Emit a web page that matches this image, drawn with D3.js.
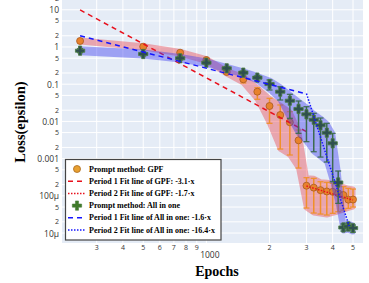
<!DOCTYPE html>
<html>
<head>
<meta charset="utf-8">
<script src="https://cdn.jsdelivr.net/npm/d3@7"></script>
<style>
  body { margin: 0; background: #fff; }
  svg { display: block; }
</style>
</head>
<body>
<div id="chart"></div>
<script>
// Loss vs epochs, log-log, GPF vs All in one

var epochs = [250, 500, 750, 1000, 1250, 1500, 1750, 2000, 2250, 2500,
              2750, 3000, 3250, 3500, 3750, 4000, 4250, 4500, 4750, 5000];

var gpfMean = [1.45, 1.02, 0.703, 0.447, 0.213, 0.1355, 0.0629, 0.0259, 0.01486, 0.00946,
               0.0031, 1.87e-4, 1.66e-4, 1.42e-4, 1.31e-4, 1.28e-4, 1.17e-4, 1.05e-4, 7.9e-5, 7.96e-5];
var gpfHi   = [1.54, 1.08, 0.757, 0.482, 0.2336, 0.161, 0.0805, 0.0418, 0.0276, 0.01823,
               0.00587, 3.07e-4, 2.95e-4, 2.39e-4, 2.31e-4, 2.17e-4, 1.95e-4, 1.76e-4, 1.59e-4, 1.52e-4];
var gpfLo   = [1.36, 0.958, 0.648, 0.413, 0.188, 0.1077, 0.0393, 0.00889, 0.00181, 0.00125,
               5.58e-4, 4.7e-5, 3.45e-5, 3.24e-5, 3.05e-5, 3.39e-5, 3.74e-5, 4.15e-5, 4.61e-5, 5.0e-5];

var aioMean = [0.795, 0.648, 0.497, 0.378, 0.267, 0.204, 0.150, 0.101, 0.0629, 0.0360,
               0.0216, 0.0155, 0.0111, 0.00785, 0.00497, 0.00258, 2.28e-4, 1.41e-5, 1.50e-5, 1.36e-5];
var aioHi   = [0.900, 0.734, 0.556, 0.420, 0.299, 0.2264, 0.1714, 0.1297, 0.0857, 0.0535,
               0.0353, 0.0248, 0.01651, 0.01234, 0.00889, 0.00478, 4.64e-4, 1.75e-5, 1.86e-5, 1.64e-5];
var aioLo   = [0.703, 0.573, 0.447, 0.339, 0.241, 0.1767, 0.1219, 0.0698, 0.0376, 0.01211,
               0.00478, 0.00285, 0.00153, 0.0011, 8.1e-4, 2.39e-4, 6.28e-5, 1.13e-5, 1.20e-5, 1.06e-5];

// fit lines: [epoch, loss] end points
var gpfFit1 = [[250, 9.9], [3000, 0.0053]];
var gpfFit2 = [[3000, 1.83e-4], [5000, 7.7e-5]];
var aioFit1 = [[250, 2.01], [3000, 0.0545]];
var aioFit2 = [[3000, 0.056], [4800, 1.5e-5]];

var xTickVals = [300, 400, 500, 600, 700, 800, 900, 1000, 2000, 3000, 4000, 5000];
var xTickText = ["3", "4", "5", "6", "7", "8", "9", "1000", "2", "3", "4", "5"];
var yMajorVals = [10, 1, 0.1, 0.01, 0.001, 1e-4, 1e-5];
var yMajorText = ["10", "1", "0.1", "0.01", "0.001", "100μ", "10μ"];
var yMinorVals = [20, 5, 2, 0.5, 0.2, 0.05, 0.02, 0.005, 0.002, 5e-4, 2e-4, 5e-5, 2e-5];
var yMinorText = ["2", "5", "2", "5", "2", "5", "2", "5", "2", "5", "2", "5", "2"];

var legendLabels = ["Prompt method: GPF",
                    "Period 1 Fit line of GPF: -3.1·x",
                    "Period 2 Fit line of GPF: -1.7·x",
                    "Prompt method: All in one",
                    "Period 1 Fit line of All in one: -1.6·x",
                    "Period 2 Fit line of All in one: -16.4·x"];

var width = 369, height = 283;
var plotL = 62, plotR = 363, plotT = 0, plotB = 243;

var svg = d3.select("#chart").append("svg")
    .attr("width", width)
    .attr("height", height);

var x = d3.scaleLog().domain([205, 5580]).range([plotL, plotR]);
var y = d3.scaleLog().domain([5.4e-6, 18.3]).range([plotB, plotT]);

svg.append("defs").append("clipPath").attr("id", "clip")
  .append("rect")
    .attr("x", plotL).attr("y", plotT)
    .attr("width", plotR - plotL).attr("height", plotB - plotT);

// background
svg.append("rect")
    .attr("x", plotL).attr("y", plotT)
    .attr("width", plotR - plotL).attr("height", plotB - plotT)
    .attr("fill", "#e5ecf6");

var grid = svg.append("g").attr("clip-path", "url(#clip)");
grid.selectAll(".vg").data(xTickVals).enter().append("line")
    .attr("x1", d => x(d)).attr("x2", d => x(d))
    .attr("y1", plotT).attr("y2", plotB)
    .attr("stroke", "#fff").attr("stroke-width", 1);
grid.selectAll(".hg").data(yMajorVals.concat(yMinorVals)).enter().append("line")
    .attr("x1", plotL).attr("x2", plotR)
    .attr("y1", d => y(d)).attr("y2", d => y(d))
    .attr("stroke", "#fff").attr("stroke-width", 1);

// tick labels
var tickFont = "'Open Sans', 'DejaVu Sans', sans-serif";
svg.selectAll(".xt").data(xTickVals).enter().append("text")
    .attr("x", d => x(d))
    .attr("dx", (d, i) => xTickText[i].length > 1 ? 3.5 : 0)
    .attr("y", (d, i) => xTickText[i].length > 1 ? 254 : 247)
    .attr("text-anchor", "middle")
    .attr("dominant-baseline", "central")
    .style("font-family", tickFont)
    .style("font-size", (d, i) => xTickText[i].length > 1 ? "8.5px" : "7px")
    .attr("fill", "#333")
    .text((d, i) => xTickText[i]);

svg.selectAll(".ytM").data(yMajorVals).enter().append("text")
    .attr("x", 59).attr("y", d => y(d))
    .attr("text-anchor", "end")
    .attr("dominant-baseline", "central")
    .style("font-family", tickFont)
    .style("font-size", "8.5px")
    .attr("fill", "#333")
    .text((d, i) => yMajorText[i]);
svg.selectAll(".ytm").data(yMinorVals).enter().append("text")
    .attr("x", 59).attr("y", d => y(d))
    .attr("text-anchor", "end")
    .attr("dominant-baseline", "central")
    .style("font-family", tickFont)
    .style("font-size", "7px")
    .attr("fill", "#333")
    .text((d, i) => yMinorText[i]);

// axis titles
var serif = "'Liberation Serif', 'Times New Roman', serif";
svg.append("text")
    .attr("x", 217).attr("y", 276)
    .attr("text-anchor", "middle")
    .style("font-family", serif).style("font-weight", "bold").style("font-size", "14px")
    .text("Epochs");
svg.append("text")
    .attr("transform", "translate(25,122)rotate(-90)")
    .attr("text-anchor", "middle")
    .style("font-family", serif).style("font-weight", "bold").style("font-size", "14.5px")
    .text("Loss(epsilon)");

var plot = svg.append("g").attr("clip-path", "url(#clip)");

function rows(mean, hi, lo) {
    return epochs.map((e, i) => ({ e: e, m: mean[i], hi: hi[i], lo: lo[i] }));
}
var gpf = rows(gpfMean, gpfHi, gpfLo);
var aio = rows(aioMean, aioHi, aioLo);

var band = d3.area()
    .x(d => x(d.e))
    .y0(d => y(d.lo))
    .y1(d => y(d.hi));
var fitLine = d3.line()
    .x(d => x(d[0]))
    .y(d => y(d[1]));

function errBars(g, data, color) {
    g.selectAll(null).data(data).enter().append("line")
        .attr("x1", d => x(d.e)).attr("x2", d => x(d.e))
        .attr("y1", d => y(d.hi)).attr("y2", d => y(d.lo))
        .attr("stroke", color).attr("stroke-width", 1.5);
    ["hi", "lo"].forEach(function(k) {
        g.selectAll(null).data(data).enter().append("line")
            .attr("x1", d => x(d.e) - 3).attr("x2", d => x(d.e) + 3)
            .attr("y1", d => y(d[k])).attr("y2", d => y(d[k]))
            .attr("stroke", color).attr("stroke-width", 1.2);
    });
}

// GPF
plot.append("path").datum(gpf)
    .attr("d", band)
    .attr("fill", "rgb(235,60,70)")
    .attr("stroke", "rgb(235,60,70)")
    .attr("stroke-width", 5)
    .attr("stroke-linejoin", "round")
    .attr("opacity", 0.4);
errBars(plot, gpf, "#f0902a");
plot.selectAll(null).data(gpf).enter().append("circle")
    .attr("cx", d => x(d.e)).attr("cy", d => y(d.m))
    .attr("r", 3.5)
    .attr("fill", "#e8822c")
    .attr("stroke", "#a85a20").attr("stroke-width", 0.8);
plot.append("path").datum(gpfFit1)
    .attr("d", fitLine).attr("fill", "none")
    .attr("stroke", "#e8101c").attr("stroke-width", 1.5)
    .attr("stroke-dasharray", "5,4");
plot.append("path").datum(gpfFit2)
    .attr("d", fitLine).attr("fill", "none")
    .attr("stroke", "#e8101c").attr("stroke-width", 1.5)
    .attr("stroke-dasharray", "1.5,1.5");

// All in one
plot.append("path").datum(aio)
    .attr("d", band)
    .attr("fill", "rgb(60,60,240)")
    .attr("stroke", "rgb(60,60,240)")
    .attr("stroke-width", 5)
    .attr("stroke-linejoin", "round")
    .attr("opacity", 0.42);
errBars(plot, aio, "#3d6b4f");
var cross = d3.symbol().type(d3.symbolCross).size(48);
plot.selectAll(null).data(aio).enter().append("path")
    .attr("d", cross)
    .attr("transform", d => "translate(" + x(d.e) + "," + y(d.m) + ")")
    .attr("fill", "#2f4f4f")
    .attr("stroke", "#4a7d3c").attr("stroke-width", 0.8);
plot.append("path").datum(aioFit1)
    .attr("d", fitLine).attr("fill", "none")
    .attr("stroke", "#1414ff").attr("stroke-width", 1.5)
    .attr("stroke-dasharray", "5,4");
plot.append("path").datum(aioFit2)
    .attr("d", fitLine).attr("fill", "none")
    .attr("stroke", "#1414ff").attr("stroke-width", 1.5)
    .attr("stroke-dasharray", "1.5,1.5");

// Legend
var legendG = svg.append("g").attr("class", "legend");
legendG.append("rect")
    .attr("x", 65.5).attr("y", 159.5)
    .attr("width", 155.5).attr("height", 80.5)
    .attr("fill", "#fff")
    .attr("stroke", "#444").attr("stroke-width", 1.2);

var legendY = d3.scaleLinear().domain([0, 5]).range([169, 230]);
var legendStyle = [
    { kind: "circle" },
    { kind: "line", color: "#e8101c", dash: "5,4" },
    { kind: "line", color: "#e8101c", dash: "1.5,1.5" },
    { kind: "cross" },
    { kind: "line", color: "#1414ff", dash: "5,4" },
    { kind: "line", color: "#1414ff", dash: "1.5,1.5" }
];
legendLabels.forEach(function(label, i) {
    var ly = legendY(i);
    var s = legendStyle[i];
    if (s.kind === "circle") {
        legendG.append("circle").attr("cx", 77).attr("cy", ly).attr("r", 3.5)
            .attr("fill", "#e8a030").attr("stroke", "#a86a20").attr("stroke-width", 0.8);
    } else if (s.kind === "cross") {
        legendG.append("path").attr("d", cross)
            .attr("transform", "translate(77," + ly + ")")
            .attr("fill", "#3f7a2a").attr("stroke", "#4a7d3c").attr("stroke-width", 0.6);
    } else {
        legendG.append("line")
            .attr("x1", 68).attr("x2", 86).attr("y1", ly).attr("y2", ly)
            .attr("stroke", s.color).attr("stroke-width", 1.5)
            .attr("stroke-dasharray", s.dash);
    }
    legendG.append("text")
        .attr("x", 89).attr("y", ly)
        .attr("dominant-baseline", "central")
        .style("font-family", serif).style("font-weight", "bold").style("font-size", "8px")
        .text(label);
});
</script>
</body>
</html>
